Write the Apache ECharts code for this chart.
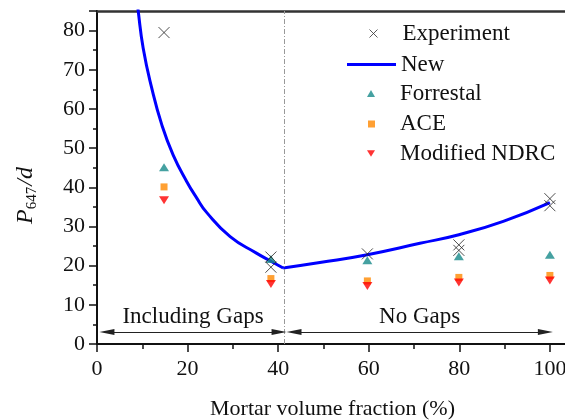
<!DOCTYPE html>
<html>
<head>
<meta charset="utf-8">
<script src="https://cdn.jsdelivr.net/npm/echarts@6/dist/echarts.min.js"></script>
<style>
  html, body { margin: 0; padding: 0; background: #fff; }
  #chart { width: 565px; height: 420px; }
</style>
</head>
<body>
<div id="chart"></div>
<script>
// 数据
var expX = [14.8, 38.4, 38.4, 59.7, 79.9, 79.9, 100, 100]
var expY = [79.5, 22.2, 19.6, 23.0, 25.3, 23.9, 37.1, 35.3]
var newLeftX = [8.3, 9.1, 10.2, 12.05, 14.3, 16.8, 19.8, 22, 24.2, 29.4, 35.2, 38.6, 41.1]
var newLeftY = [93, 85, 75.5, 65.5, 56, 48.3, 41.5, 37.3, 33.6, 27.4, 23.2, 21.0, 19.4]
var newRightX = [41.1, 49.2, 59.7, 71.3, 79.9, 89.7, 100]
var newRightY = [19.4, 20.8, 22.8, 25.7, 27.9, 31.3, 36.1]
var modelX = [14.8, 38.4, 59.7, 79.9, 100]
var forrestal = [45.1, 21.7, 21.4, 22.4, 22.8]
var ace = [40.1, 16.7, 16.1, 17.0, 17.5]
var ndrc = [36.7, 15.3, 14.8, 15.7, 16.2]
var gapX = 41.3 // 分界线
var arrowY = 3.07

function pairs(xs, ys) {
  return xs.map(function (x, i) { return [x, ys[i]] })
}

var serif = 'Liberation Serif'
var crossPath = 'path://M0,0L10,10M10,0L0,10'

// 单项图例
function legendItem(name, top, left, w, h, padLeft, extra) {
  var lg = {
    data: [name],
    orient: 'vertical',
    left: left,
    top: top,
    padding: 0,
    itemWidth: w,
    itemHeight: h,
    selectedMode: false,
    textStyle: {
      fontFamily: serif,
      fontSize: 23,
      color: '#111',
      padding: [0, 0, 0, padLeft]
    }
  }
  if (extra) Object.assign(lg, extra)
  return lg
}

var options = {
  animation: false,
  grid: { left: 97, top: 11, width: 471, height: 333, outerBoundsMode: 'none' },
  legend: [
    legendItem('Experiment', 22, 367, 8, 8, 20, {
      data: [{ name: 'Experiment', icon: crossPath, itemStyle: { color: 'none', borderColor: '#333', borderWidth: 1 } }]
    }),
    legendItem('New', 53, 347, 49, 3, 0, {
      data: [{ name: 'New', icon: 'rect', itemStyle: { color: '#0000ff' } }]
    }),
    legendItem('Forrestal', 82, 367, 8, 7, 20),
    legendItem('ACE', 112.5, 368, 7, 7, 20),
    legendItem('Modified NDRC', 142, 367, 8, 7, 20, {
      data: [{ name: 'Modified NDRC', icon: 'path://M0,0L10,0L5,8Z' }]
    })
  ],
  xAxis: [
    {
      type: 'value',
      min: 0,
      max: 104,
      interval: 20,
      name: 'Mortar volume fraction (%)',
      nameLocation: 'middle',
      nameGap: 54,
      nameTextStyle: { fontFamily: serif, fontSize: 22, color: '#111' },
      axisLine: { show: true, lineStyle: { color: '#111', width: 2 } },
      axisTick: { show: true, length: 8, lineStyle: { color: '#111', width: 1.5 } },
      minorTick: { show: true, splitNumber: 2, length: 5, lineStyle: { color: '#111', width: 1.5 } },
      axisLabel: { fontFamily: serif, fontSize: 22, color: '#111', margin: 14, showMaxLabel: false },
      splitLine: { show: false }
    },
    {
      // 顶部边框
      type: 'value',
      position: 'top',
      min: 0,
      max: 104,
      axisLine: { show: true, lineStyle: { color: '#333', width: 2.5 } },
      axisTick: { show: false },
      axisLabel: { show: false },
      splitLine: { show: false }
    }
  ],
  yAxis: {
    type: 'value',
    min: 0,
    max: 85,
    interval: 10,
    name: '{i|P}{s|647}{i|/d}',
    nameLocation: 'middle',
    nameGap: 58,
    nameTextStyle: {
      padding: [0, 36, 0, 0],
      rich: {
        i: { fontFamily: serif, fontStyle: 'italic', fontSize: 24, lineHeight: 26, color: '#111' },
        s: { fontFamily: serif, fontSize: 15, lineHeight: 15, padding: [13, 1, 0, 0], color: '#111' }
      }
    },
    axisLine: { show: true, lineStyle: { color: '#111', width: 2 } },
    axisTick: { show: true, length: 8, lineStyle: { color: '#111', width: 1.5 } },
    minorTick: { show: true, splitNumber: 2, length: 4, lineStyle: { color: '#111', width: 1.5 } },
    axisLabel: { fontFamily: serif, fontSize: 22, color: '#111', margin: 12, showMaxLabel: false },
    splitLine: { show: false }
  },
  series: [
    {
      name: 'Experiment',
      type: 'scatter',
      data: pairs(expX, expY),
      symbol: crossPath,
      symbolSize: 11,
      itemStyle: { color: 'none', borderColor: '#222', borderWidth: 1 },
      z: 5
    },
    {
      name: 'New',
      type: 'line',
      data: pairs(newLeftX, newLeftY),
      smooth: 0.5,
      symbol: 'none',
      lineStyle: { color: '#0000ff', width: 3 },
      itemStyle: { color: '#0000ff' },
      z: 3
    },
    {
      name: 'New',
      type: 'line',
      data: pairs(newRightX, newRightY),
      smooth: 0.5,
      symbol: 'none',
      lineStyle: { color: '#0000ff', width: 3 },
      itemStyle: { color: '#0000ff' },
      z: 3,
      markLine: {
        silent: true,
        symbol: 'none',
        animation: false,
        lineStyle: { color: '#999', type: [5, 2, 1, 2], width: 1 },
        label: { show: false },
        data: [{ xAxis: gapX }]
      }
    },
    {
      name: 'Forrestal',
      type: 'scatter',
      data: pairs(modelX, forrestal),
      symbol: 'triangle',
      symbolSize: [10, 8],
      itemStyle: { color: '#17898a' },
      z: 4,
      markLine: {
        silent: true,
        animation: false,
        symbol: 'triangle',
        symbolSize: [6, 15],
        lineStyle: { color: '#222', type: 'solid', width: 1 },
        label: {
          show: true,
          position: 'middle',
          distance: 4,
          fontFamily: serif,
          fontSize: 23,
          color: '#111'
        },
        data: [
          [{ coord: [2.2, arrowY], label: { formatter: 'Including Gaps' } }, { coord: [40.2, arrowY] }],
          [{ coord: [43.5, arrowY], label: { formatter: 'No Gaps' } }, { coord: [99.0, arrowY] }]
        ]
      }
    },
    {
      name: 'ACE',
      type: 'scatter',
      data: pairs(modelX, ace),
      symbol: 'rect',
      symbolSize: 7,
      itemStyle: { color: '#ff8800' },
      z: 4
    },
    {
      name: 'Modified NDRC',
      type: 'scatter',
      data: pairs(modelX, ndrc),
      symbol: 'triangle',
      symbolRotate: 180,
      symbolSize: [10, 8],
      itemStyle: { color: '#ff0000' },
      z: 4
    }
  ]
}

var myChart = echarts.init(document.getElementById('chart'))
myChart.setOption(options)
</script>
</body>
</html>
